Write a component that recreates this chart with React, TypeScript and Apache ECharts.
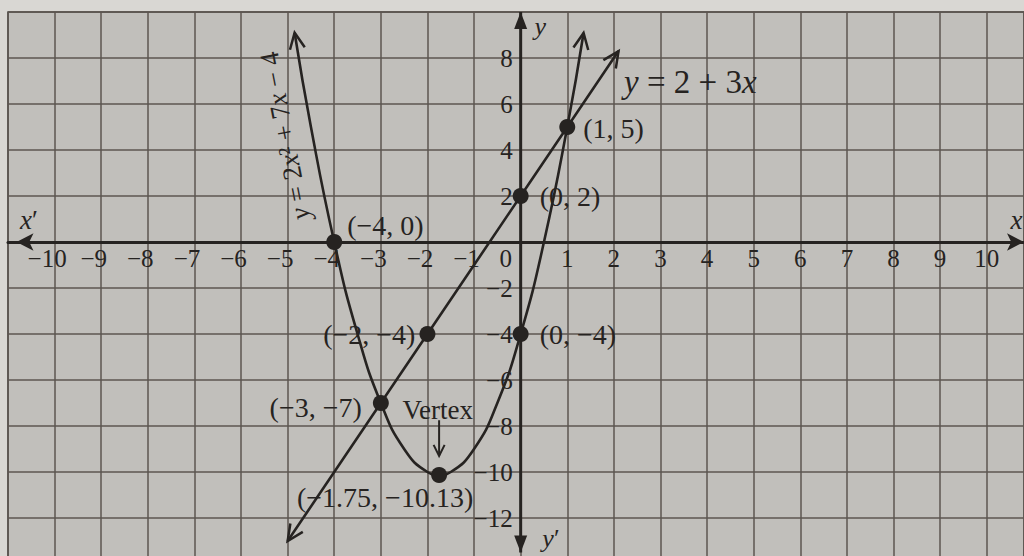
import React, { useEffect, useRef } from "react";
import * as echarts from "echarts";

// ---- axes extents / ticks ----
const X_MIN = -11;
const X_MAX = 10.8;
const X_STEP = 1;
const Y_MIN = -14;
const Y_MAX = 10;
const Y_STEP = 2;

const PARABOLA_X = [-4.85, -4.5, -4, -3.5, -3, -2.5, -2, -1.75, -1.5, -1, -0.5, 0, 0.5, 1, 1.35];
const PARABOLA_Y = [9.1, 5, 0, -4, -7, -9, -10, -10.13, -10, -9, -7, -4, 0, 5, 9.09];

// ---- y = 2 + 3x ----
const LINE_X = [-5, -3, -2, 0, 1, 2.1];
const LINE_Y = [-13, -7, -4, 2, 5, 8.3];

// ---- drawn y axis (x = 0) ----
const YAXIS_X = [0, 0];
const YAXIS_Y = [-13.5, 10];

// ---- marked points ----
const POINT_X = [-4, 0, 1, 0, -2, -3, -1.75];
const POINT_Y = [0, 2, 5, -4, -4, -7, -10.13];
const POINT_LABELS = ["(−4, 0)", "(0, 2)", "(1, 5)", "(0, −4)", "(−2, −4)", "(−3, −7)", "(−1.75, −10.13)"];

// ---- arrow heads: tip, direction taken from a point behind the tip ----
const ARROW_TIP_X = [-4.85, 1.35, -5, 2.1, -1.75, 0, 0];
const ARROW_TIP_Y = [9.1, 9.09, -13, 8.3, -9.3, 10, -13.5];
const ARROW_FROM_X = [-4.5, 1, -3, 1, -1.75, 0, 0];
const ARROW_FROM_Y = [5, 5, -7, 5, -7.75, 0, 0];
const ARROW_KIND = [0, 0, 0, 0, 2, 1, 1]; // 0 open head, 1 filled head, 2 shaft + open head

// ---- annotations ----
const ANNOT_TEXT = [
  "{i|y} = 2 + 3{i|x}",
  "{i|y} = 2{i|x}² + 7{i|x} − 4",
  "Vertex",
  "{i|x}′",
  "{i|x}",
  "{i|y}",
  "{i|y}′",
];
const ANNOT_X = [3.64, -5.06, -1.78, -10.55, 10.64, 0.42, 0.65];
const ANNOT_Y = [6.96, 4.61, -7.3, 0.96, 0.96, 9.35, -12.87];
const ANNOT_SIZE = [33, 27, 27, 27, 27, 26, 26];
const ANNOT_ROTATE = [0, 101, 0, 0, 0, 0, 0];

// label placement styles for the marked points
const POINT_LABEL_STYLE = [
  { position: "right", distance: 5, offset: [0, -17] },
  { position: "right", distance: 11, offset: [0, 0] },
  { position: "right", distance: 8, offset: [0, 1] },
  { position: "right", distance: 11, offset: [0, 0] },
  { position: "left", distance: 4, offset: [0, 0] },
  { position: "left", distance: 11, offset: [0, 4] },
  { position: "inside", distance: 0, offset: [-54, 23] },
];

const FONT = "'Liberation Serif', 'DejaVu Serif', serif";
const INK = "#262321";
const GRID_LINE = "#5c5651";

// grid box (pixels)
const GRID_LEFT = 8;
const GRID_TOP = 12;
const GRID_W = 1016;
const GRID_H = 552;

function zip(xs: number[], ys: number[]) {
  return xs.map((x, i) => [x, ys[i]]);
}

export default function App() {
  const ref = useRef<HTMLDivElement>(null);

  useEffect(() => {
    if (!ref.current) return;
    const chart = echarts.init(ref.current, undefined, { renderer: "svg" });

    const xLabel = (v: number) => {
      if (!Number.isInteger(v) || v === X_MIN) return "";
      if (v === 0) return "{z|0}";
      if (v < 0) return "{n|−" + Math.abs(v) + "}";
      return "{p|" + v + "}";
    };
    const yLabel = (v: number) => {
      if (v === 0 || v === Y_MAX || v === Y_MIN) return "";
      if (v < 0) return "−" + Math.abs(v);
      return String(v);
    };

    const labelBase = { fontFamily: FONT, fontSize: 25, lineHeight: 20, color: INK };
    const noBorder = { textBorderWidth: 0, textBorderColor: "transparent", textShadowBlur: 0 };

    // move the axes (line + labels) onto the zero lines of the other axis
    const xAxisOffset = -(GRID_H - (GRID_H * (Y_MAX - 0)) / (Y_MAX - Y_MIN));
    const yAxisOffset = -((GRID_W * (0 - X_MIN)) / (X_MAX - X_MIN));

    const option: any = {
      animation: false,
      backgroundColor: "#d9d7d3",
      grid: {
        left: GRID_LEFT,
        top: GRID_TOP,
        width: GRID_W,
        height: GRID_H,
        containLabel: false,
        outerBoundsMode: "none",
        show: true,
        backgroundColor: "#c1bfbb",
        borderColor: "#4a4541",
        borderWidth: 1.5,
      },
      xAxis: {
        type: "value",
        min: X_MIN,
        max: X_MAX,
        interval: X_STEP,
        position: "bottom",
        offset: xAxisOffset,
        axisLine: {
          onZero: false,
          symbol: ["arrow", "arrow"],
          symbolSize: [13, 17],
          symbolOffset: [8.5, 0],
          lineStyle: { color: INK, width: 3 },
        },
        axisTick: { show: false },
        splitLine: { show: true, lineStyle: { color: GRID_LINE, width: 1.5 } },
        axisLabel: {
          margin: 6,
          formatter: xLabel,
          ...labelBase,
          rich: {
            n: { ...labelBase, padding: [0, 15, 0, 0] },
            z: { ...labelBase, padding: [0, 30, 0, 0] },
            p: { ...labelBase },
          },
        },
      },
      yAxis: {
        type: "value",
        min: Y_MIN,
        max: Y_MAX,
        interval: Y_STEP,
        position: "left",
        offset: yAxisOffset,
        axisLine: { show: true, onZero: false, lineStyle: { opacity: 0 } },
        axisTick: { show: false },
        splitLine: { show: true, lineStyle: { color: GRID_LINE, width: 1.5 } },
        axisLabel: { margin: 8, formatter: yLabel, ...labelBase },
      },
      series: [
        {
          type: "line",
          name: "y-axis",
          data: zip(YAXIS_X, YAXIS_Y),
          showSymbol: false,
          silent: true,
          lineStyle: { color: INK, width: 3 },
          z: 3,
        },
        {
          type: "line",
          name: "y = 2x² + 7x − 4",
          data: zip(PARABOLA_X, PARABOLA_Y),
          smooth: 0.5,
          showSymbol: false,
          silent: true,
          lineStyle: { color: INK, width: 2.6 },
          z: 4,
        },
        {
          type: "line",
          name: "y = 2 + 3x",
          data: zip(LINE_X, LINE_Y),
          showSymbol: false,
          silent: true,
          lineStyle: { color: INK, width: 2.6 },
          z: 4,
        },
        {
          type: "custom",
          name: "arrows",
          silent: true,
          z: 5,
          data: ARROW_TIP_X.map((x, i) => [x, ARROW_TIP_Y[i], ARROW_FROM_X[i], ARROW_FROM_Y[i], ARROW_KIND[i]]),
          encode: { x: 0, y: 1 },
          renderItem: (_params: any, api: any) => {
            const tip = api.coord([api.value(0), api.value(1)]);
            const from = api.coord([api.value(2), api.value(3)]);
            const kind = api.value(4);
            const dx = tip[0] - from[0];
            const dy = tip[1] - from[1];
            const len = Math.hypot(dx, dy) || 1;
            const ux = dx / len;
            const uy = dy / len;
            const L = kind === 1 ? 17 : kind === 2 ? 11 : 16;
            const W = kind === 1 ? 6.5 : kind === 2 ? 5.5 : 7.5;
            const bx = tip[0] - ux * L;
            const by = tip[1] - uy * L;
            const a = [bx - uy * W, by + ux * W];
            const b = [bx + uy * W, by - ux * W];
            const children: any[] = [];
            if (kind === 2) {
              children.push({
                type: "line",
                shape: { x1: from[0], y1: from[1], x2: tip[0], y2: tip[1] },
                style: { stroke: INK, lineWidth: 2 },
              });
            }
            if (kind === 1) {
              children.push({
                type: "polygon",
                shape: { points: [a, tip, b] },
                style: { fill: INK },
              });
            } else {
              children.push({
                type: "polyline",
                shape: { points: [a, tip, b] },
                style: { stroke: INK, lineWidth: kind === 2 ? 2 : 2.5, fill: "none" },
              });
            }
            return { type: "group", children };
          },
        },
        {
          type: "scatter",
          name: "points",
          silent: true,
          z: 6,
          symbol: "circle",
          symbolSize: 16,
          itemStyle: { color: INK, opacity: 1 },
          label: { show: true, fontFamily: FONT, fontSize: 28, color: INK, ...noBorder },
          data: POINT_X.map((x, i) => ({
            value: [x, POINT_Y[i]],
            label: {
              show: true,
              formatter: POINT_LABELS[i],
              fontFamily: FONT,
              fontSize: 28,
              color: INK,
              ...noBorder,
              ...POINT_LABEL_STYLE[i],
            },
          })),
        },
        {
          type: "scatter",
          name: "annotations",
          silent: true,
          z: 7,
          symbol: "circle",
          symbolSize: 0.1,
          itemStyle: { color: INK, opacity: 1 },
          data: ANNOT_X.map((x, i) => ({
            value: [x, ANNOT_Y[i]],
            label: {
              show: true,
              position: "inside",
              align: "center",
              verticalAlign: "middle",
              formatter: ANNOT_TEXT[i],
              rotate: ANNOT_ROTATE[i],
              fontFamily: FONT,
              fontSize: ANNOT_SIZE[i],
              color: INK,
              opacity: 1,
              ...noBorder,
              rich: {
                i: {
                  fontFamily: FONT,
                  fontSize: ANNOT_SIZE[i],
                  fontStyle: "italic",
                  color: INK,
                  ...noBorder,
                },
              },
            },
          })),
        },
      ],
    };

    chart.setOption(option);
    return () => chart.dispose();
  }, []);

  return (
    <div
      ref={ref}
      style={{
        position: "fixed",
        left: 0,
        top: 0,
        width: 1024,
        height: 556,
        overflow: "hidden",
      }}
    />
  );
}
